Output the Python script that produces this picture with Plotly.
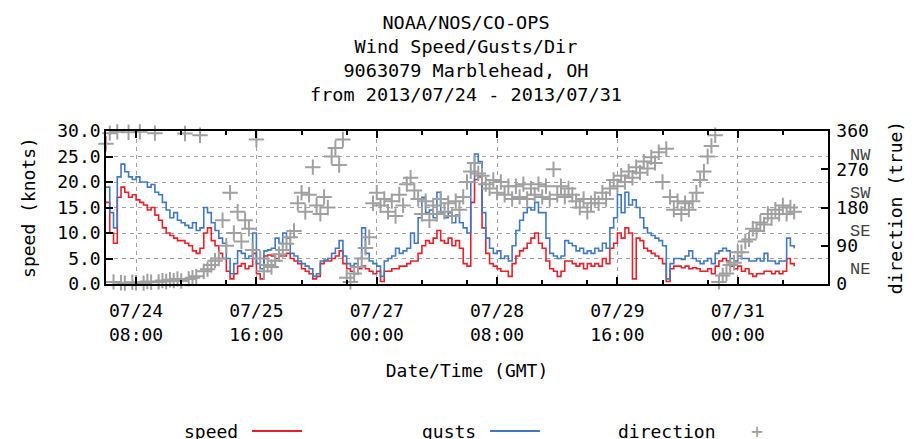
import pandas as pd
import plotly.graph_objects as go

# ---- data (hourly readings, 2013-07-24 00:00 GMT onward) ----
speed = [16, 10, 8, 17, 19, 18, 17, 17.5, 16.5, 16,
         15.5, 14.5, 15, 13.5, 12.5, 11, 10, 9.5, 9, 8.5,
         8.5, 8, 7.5, 6.5, 6, 7, 10, 11, 8.5, 7.5,
         6, 5, 2.5, 1, 2, 3.5, 4, 3, 3.5, 6,
         2, 1, 5.5, 5.7, 5.5, 5, 5.5, 5.5, 6, 5,
         4.5, 4, 3, 2.5, 2, 1, 1.5, 4, 4.5, 4.5,
         5, 5.5, 6.5, 4, 3, 2.5, 2, 3, 3.5, 3,
         2.5, 2, 2.5, 0.5, 2.5, 2.5, 3, 3, 3.5, 3.5,
         4, 4.5, 4.5, 6, 7.5, 8.5, 8, 9, 10.5, 8.5,
         8, 9, 7.5, 8.5, 7, 4, 3.5, 16, 20.5, 21,
         11, 6, 4, 3.5, 3, 2.5, 2.5, 1.5, 4, 5.5,
         6.5, 7, 8, 9, 10, 8, 7, 4.5, 3, 2.5,
         1.5, 2.5, 4.5, 4.5, 4, 3.5, 4, 3, 4, 3.5,
         4, 3.5, 5, 4, 7, 8, 10, 9, 11, 10,
         1, 9, 8.5, 7, 6.5, 6, 5.5, 5, 4, 0.5,
         3, 3.5, 3.5, 3.2, 3.5, 3, 3.2, 3, 2.5, 2.5,
         3, 2, 3.5, 4.5, 5, 4.5, 3.5, 3, 3.5, 2.5,
         3, 2, 1.5, 2, 2, 2.5, 2.5, 2, 2.5, 2,
         2.5, 5, 4, 3.5]

gusts = [19, 14, 11, 21, 23.5, 22, 21, 20.5, 21, 20,
         20, 19, 19.5, 18, 17.5, 16, 14.5, 13, 14, 12.5,
         12, 11.5, 11, 12, 10.5, 11, 15, 14, 12, 10.5,
         9, 8, 5, 2, 4, 6.5, 6, 5, 5.5, 10,
         4, 3, 6.5, 6.7, 7, 9, 8, 10, 9, 6,
         5.5, 4.5, 4, 3.5, 3, 1.5, 2, 4.5, 4.7, 5,
         6, 7, 8.5, 5.5, 4, 3.5, 4, 5, 11, 6,
         4.5, 4, 3.5, 1.5, 4.5, 5, 5.5, 7, 6, 6.5,
         7, 10, 8, 13, 17, 14, 14.5, 13, 18, 14,
         13, 14, 12, 13.5, 12, 11, 10, 20, 25.5, 24,
         14, 9, 7, 6, 6.5, 5, 5.5, 4.5, 7.5, 10.5,
         12.5, 14, 15, 14.5, 16, 14, 14, 9, 6, 5.5,
         5, 5.5, 8.5, 8, 7.5, 6.5, 7, 6, 6.5, 6,
         7, 6.5, 8, 7, 11, 13, 17.5, 14, 18, 15.5,
         16.5, 15, 13, 11, 10, 9.5, 9, 8.5, 7.5, 1,
         4, 5, 5, 4.8, 5.5, 6.5, 5, 4.5, 4, 4.5,
         5, 4, 6, 6.5, 7, 6.5, 5, 4.5, 5.5, 5,
         5, 4.5, 4.5, 5, 4.5, 6, 4.5, 4.5, 4, 4.5,
         4.5, 9, 7.5, 7]

direction = [330, 355, 5, 358, 3, 2, 357, 4, 3, 358,
             2, 6, 4, 355, 5, 8, 6, 10, 8, 12,
             7, 354, 12, 15, 18, 350, 30, 35, 45, 55,
             60, 150, 90, 215, 120, 170, 100, 150, 130, 80,
             340, 60, 30, 45, 40, 55, 70, 80, 95, 110,
             125, 190, 215, 170, 210, 275, 185, 165, 205, 180,
             300, 320, 280, 340, 15, 5, 25, 40, 60, 85,
             110, 190, 215, 185, 200, 170, 195, 160, 210, 185,
             235, 250, 220, 200, 165, 195, 150, 185, 165, 200,
             170, 190, 160, 195, 175, 205, 240, 265, 285, 260,
             255, 235, 225, 245, 215, 240, 210, 230, 200, 230,
             205, 235, 200, 225, 210, 235, 205, 230, 200, 270,
             210, 230, 205, 225, 210, 195, 180, 200, 170, 190,
             200, 190, 215, 200, 225, 245, 230, 255, 240, 265,
             250, 275, 262, 288, 272, 298, 285, 310, 240, 318,
             205, 175, 195, 165, 190, 175, 195, 215, 245, 265,
             300, 325, 350, 5, 20, 25, 45, 50, 75, 75,
             100, 105, 130, 125, 145, 140, 165, 155, 175, 165,
             185, 165, 180, 170]

times = pd.date_range("2013-07-24 00:00", periods=len(speed), freq="h")

major_ticks = ["2013-07-24 08:00", "2013-07-25 16:00", "2013-07-27 00:00",
               "2013-07-28 08:00", "2013-07-29 16:00", "2013-07-31 00:00"]
major_labels = ["07/24<br>08:00", "07/25<br>16:00", "07/27<br>00:00",
                "07/28<br>08:00", "07/29<br>16:00", "07/31<br>00:00"]
minor_ticks = ["2013-07-24 20:00", "2013-07-25 08:00", "2013-07-26 04:00",
               "2013-07-26 16:00", "2013-07-27 12:00", "2013-07-28 00:00",
               "2013-07-28 20:00", "2013-07-29 08:00", "2013-07-30 04:00",
               "2013-07-30 16:00", "2013-07-31 12:00", "2013-08-01 00:00"]
x_range = ["2013-07-24 00:00", "2013-08-01 00:00"]
speed_ticks = [0, 5, 10, 15, 20, 25, 30]
dir_ticks = [0, 90, 180, 270, 360]
compass_vals = [45, 135, 225, 315]
compass_text = ["NE", "SE", "SW", "NW"]

RED = "#e8202a"
BLUE = "#3f78c4"
GRAY = "#a0a0a0"
FONT = "DejaVu Sans Mono"

fig = go.Figure()
fig.add_trace(go.Scatter(x=times, y=speed, mode="lines", name="speed",
                         line=dict(color=RED, width=1.6, shape="hv"),
                         showlegend=False))
fig.add_trace(go.Scatter(x=times, y=gusts, mode="lines", name="gusts",
                         line=dict(color=BLUE, width=1.6, shape="hv"),
                         showlegend=False))
fig.add_trace(go.Scatter(x=times, y=direction, mode="markers", name="direction",
                         yaxis="y2", cliponaxis=False,
                         marker=dict(symbol="cross-thin", size=11,
                                     line=dict(color=GRAY, width=2)),
                         showlegend=False))
# invisible trace to activate minor-tick axis
fig.add_trace(go.Scatter(x=[x_range[0]], y=[None], xaxis="x2", showlegend=False,
                         hoverinfo="skip"))

grid = dict(showgrid=True, gridcolor=GRAY, griddash="4px,4px", gridwidth=1)

fig.update_layout(
    width=916, height=431,
    paper_bgcolor="white", plot_bgcolor="white",
    margin=dict(l=98, r=96, t=123, b=155, autoexpand=False),
    font=dict(family=FONT, size=18, color="black"),
    title=dict(text="NOAA/NOS/CO-OPS<br>Wind Speed/Gusts/Dir<br>9063079 Marblehead, OH<br>from 2013/07/24 - 2013/07/31",
               x=0.5, xanchor="center", y=0.951, yanchor="top",
               font=dict(family=FONT, size=18.5, color="black")),
    xaxis=dict(range=x_range, tickvals=major_ticks, ticktext=major_labels,
               ticks="inside", ticklen=7, tickcolor="black", tickwidth=1.5,
               showline=True, linecolor="black", linewidth=1.5, mirror="ticks",
               ticklabelstandoff=10, automargin=False, zeroline=False,
               title=dict(text="Date/Time (GMT)", standoff=21,
                          font=dict(family=FONT, size=18)),
               **grid),
    xaxis2=dict(range=x_range, overlaying="x", side="bottom", tickvals=minor_ticks,
                ticks="inside", ticklen=4, tickcolor="black", tickwidth=1.5,
                showticklabels=False, showgrid=False, zeroline=False,
                showline=False, mirror="ticks", automargin=False),
    yaxis=dict(range=[0, 30], tickvals=speed_ticks, tickformat=".1f",
               ticks="inside", ticklen=7, tickcolor="black", tickwidth=1.5,
               showline=True, linecolor="black", linewidth=1.5, mirror=False,
               zeroline=False, automargin=False,
               title=dict(text="speed (knots)", standoff=17,
                          font=dict(family=FONT, size=18)),
               **grid),
    yaxis2=dict(range=[0, 360], tickvals=dir_ticks, overlaying="y", side="right",
                ticks="inside", ticklen=7, tickcolor="black", tickwidth=1.5,
                showline=True, linecolor="black", linewidth=1.5,
                ticklabelstandoff=3,
                showgrid=False, zeroline=False, automargin=False,
                title=dict(text="direction (true)", standoff=22,
                           font=dict(family=FONT, size=18))),
)

# compass labels on the direction axis
for v, t in zip(compass_vals, compass_text):
    fig.add_annotation(x=1.028, xref="paper", y=v, yref="y2", yshift=-5,
                       text=t, showarrow=False, xanchor="left",
                       font=dict(family="Liberation Mono", size=17, color="#404040"))

# gnuplot-style key (text followed by sample)
key_y = -0.961
fig.add_annotation(x=0.1856, y=key_y, xref="paper", yref="paper", text="speed",
                   showarrow=False, xanchor="right", yanchor="middle",
                   font=dict(family=FONT, size=18))
fig.add_shape(type="line", xref="paper", yref="paper", x0=0.2022, x1=0.2715,
              y0=key_y, y1=key_y, line=dict(color=RED, width=2))
fig.add_annotation(x=0.5152, y=key_y, xref="paper", yref="paper", text="gusts",
                   showarrow=False, xanchor="right", yanchor="middle",
                   font=dict(family=FONT, size=18))
fig.add_shape(type="line", xref="paper", yref="paper", x0=0.5319, x1=0.6011,
              y0=key_y, y1=key_y, line=dict(color=BLUE, width=2))
fig.add_annotation(x=0.8476, y=key_y, xref="paper", yref="paper", text="direction",
                   showarrow=False, xanchor="right", yanchor="middle",
                   font=dict(family=FONT, size=18))
fig.add_annotation(x=0.9017, y=key_y, xref="paper", yref="paper", text="+",
                   showarrow=False, xanchor="center", yanchor="middle",
                   font=dict(family=FONT, size=20, color=GRAY))

fig.write_html("out.html")
